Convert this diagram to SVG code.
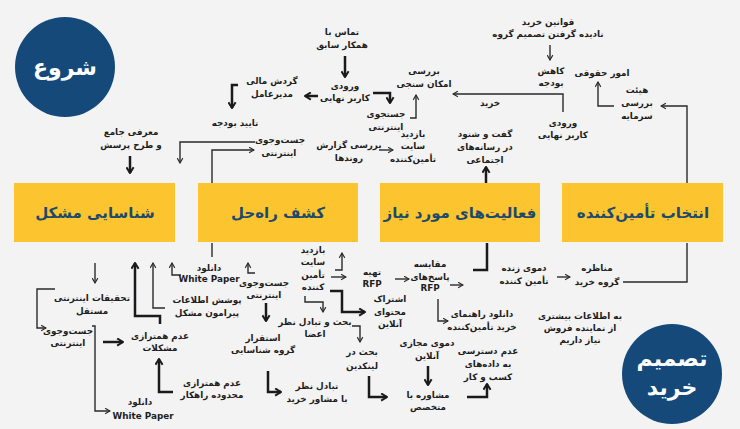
<svg xmlns="http://www.w3.org/2000/svg" width="740" height="429" viewBox="0 0 740 429">
<style>
.t{font-family:"DejaVu Sans","Noto Sans",sans-serif;font-size:8.8px;font-weight:bold;fill:#1e1e1e;text-anchor:middle}
.b{font-family:"DejaVu Sans","Noto Sans",sans-serif;font-size:15px;font-weight:bold;fill:#1d4a6c;text-anchor:middle}
.w{font-family:"DejaVu Sans","Noto Sans",sans-serif;font-size:22px;font-weight:bold;fill:#ffffff;text-anchor:middle}
.box{fill:#fcc42e}
.circ{fill:#15497a}
.n{fill:none;stroke:#2a2a2a;stroke-width:1.4;marker-end:url(#an)}
.k{fill:none;stroke:#1a1a1a;stroke-width:2.5;marker-end:url(#ak)}
.p{fill:none;stroke:#2a2a2a;stroke-width:1.4}
.pk{fill:none;stroke:#1a1a1a;stroke-width:2.5}
</style>
<defs>
<marker id="an" viewBox="0 0 10 10" refX="9" refY="5" markerWidth="7" markerHeight="7" markerUnits="userSpaceOnUse" orient="auto"><path d="M2,1 L9,5 L2,9" fill="none" stroke="#2a2a2a" stroke-width="1.6"/></marker>
<marker id="ak" viewBox="0 0 10 10" refX="8.5" refY="5" markerWidth="9" markerHeight="9" markerUnits="userSpaceOnUse" orient="auto"><path d="M2,1 L8.5,5 L2,9" fill="none" stroke="#1a1a1a" stroke-width="2.2"/></marker>
</defs>
<rect width="740" height="429" fill="#f3f3f3"/>

<g id="start"><circle class="circ" cx="65" cy="67" r="50"/><text class="w" x="65" y="75">شروع</text></g>
<g id="decision"><circle class="circ" cx="672" cy="374" r="50"/><text class="w" x="672" y="366">تصمیم</text><text class="w" x="672" y="395">خرید</text></g>

<g id="box-problem"><rect class="box" x="14" y="183" width="161" height="59"/><text class="b" x="95" y="218">شناسایی مشکل</text></g>
<g id="box-solution"><rect class="box" x="198" y="183" width="160" height="59"/><text class="b" x="278" y="218">کشف راه‌حل</text></g>
<g id="box-activities"><rect class="box" x="380" y="183" width="160" height="59"/><text class="b" x="460" y="218">فعالیت‌های مورد نیاز</text></g>
<g id="box-supplier"><rect class="box" x="562" y="183" width="161" height="59"/><text class="b" x="643" y="218">انتخاب تأمین‌کننده</text></g>

<g id="connectors">
<path class="k" d="M345,56 V77"/>
<path class="k" d="M318,96 H305"/>
<path class="k" d="M373,93 H390 V103"/>
<path class="n" d="M410,118 H416 V95"/>
<path class="n" d="M563,112 V94 H453"/>
<path class="n" d="M550,45 V60"/>
<path class="n" d="M614,106 H598 V82"/>
<path class="n" d="M687,183 V106 H661"/>
<path class="p" d="M623,282 H687 V243"/>
<path class="k" d="M238,85 H232 V108"/>
<path class="k" d="M130,156 V173"/>
<path class="n" d="M255,142 H180 V163"/>
<path class="n" d="M212,183 V150 H254"/>
<path class="n" d="M379,150 H393"/>
<path class="k" d="M486,183 V167"/>
<path class="n" d="M95,263 V283"/>
<path class="n" d="M55,289 H37 V328 H46"/>
<path class="n" d="M92,326 H95 V411 H110"/>
<path class="k" d="M103,342 H123"/>
<path class="k" d="M173,392 H159 V359"/>
<path class="k" d="M160,324 V316 H135 V263"/>
<path class="n" d="M165,308 H153 V263"/>
<path class="n" d="M181,275 H172 V263"/>
<path class="p" d="M212,243 V257"/>
<path class="n" d="M255,273 H248 V263"/>
<path class="k" d="M266,303 V321"/>
<path class="k" d="M268,371 V392 H281"/>
<path class="n" d="M335,270 H342 V253"/>
<path class="n" d="M331,277 H346"/>
<path class="k" d="M330,291 H342 V312 H365"/>
<path class="n" d="M305,296 V302 H323 V312"/>
<path class="n" d="M352,326 H360 V342"/>
<path class="k" d="M369,376 V397 H387"/>
<path class="n" d="M395,279 H409"/>
<path class="n" d="M450,285 H463"/>
<path class="pk" d="M473,270 H487 V243"/>
<path class="n" d="M557,277 H570"/>
<path class="n" d="M438,299 V321 H448"/>
<path class="k" d="M428,366 V385"/>
<path class="k" d="M467,397 H487 V384"/>
</g>

<g id="n-contact"><text class="t" x="342" y="35">تماس با</text><text class="t" x="342" y="48">همکار سابق</text></g>
<g id="n-enduser1"><text class="t" x="345" y="89">ورودی</text><text class="t" x="345" y="101">کاربر نهایی</text></g>
<g id="n-ceo"><text class="t" x="272" y="84">گردش مالی</text><text class="t" x="272" y="97">مدیرعامل</text></g>
<g id="n-search-top"><text class="t" x="386" y="117">جستجوی</text><text class="t" x="386" y="130">اینترنتی</text></g>
<g id="n-feasibility"><text class="t" x="424" y="74">بررسی</text><text class="t" x="424" y="87">امکان سنجی</text></g>
<g id="n-buy"><text class="t" x="490" y="106">خرید</text></g>
<g id="n-enduser2"><text class="t" x="563" y="126">ورودی</text><text class="t" x="563" y="138">کاربر نهایی</text></g>
<g id="n-rules"><text class="t" x="548" y="25">قوانین خرید</text><text class="t" x="548" y="37">نادیده گرفتن تصمیم گروه</text></g>
<g id="n-cut"><text class="t" x="551" y="74">کاهش</text><text class="t" x="551" y="86">بودجه</text></g>
<g id="n-legal"><text class="t" x="602" y="76">امور حقوقی</text></g>
<g id="n-board"><text class="t" x="637" y="93">هیئت</text><text class="t" x="637" y="106">بررسی</text><text class="t" x="637" y="119">سرمایه</text></g>
<g id="n-budget"><text class="t" x="235" y="126">تایید بودجه</text></g>
<g id="n-intro"><text class="t" x="131" y="135">معرفی جامع</text><text class="t" x="131" y="148">و طرح پرسش</text></g>
<g id="n-search2"><text class="t" x="280" y="143">جست‌وجوی</text><text class="t" x="279" y="156">اینترنتی</text></g>
<g id="n-trends"><text class="t" x="349" y="148">بررسی گزارش</text><text class="t" x="349" y="161">روندها</text></g>
<g id="n-visit1"><text class="t" x="413" y="137">بازدید</text><text class="t" x="413" y="149">سایت</text><text class="t" x="413" y="162">تأمین‌کننده</text></g>
<g id="n-social"><text class="t" x="485" y="137">گفت و شنود</text><text class="t" x="485" y="150">در رسانه‌های</text><text class="t" x="485" y="163">اجتماعی</text></g>

<g id="n-research"><text class="t" x="92" y="301">تحقیقات اینترنتی</text><text class="t" x="92" y="314">مستقل</text></g>
<g id="n-search3"><text class="t" x="68" y="334">جست‌وجوی</text><text class="t" x="68" y="346">اینترنتی</text></g>
<g id="n-wp1"><text class="t" x="140" y="405">دانلود</text><text class="t" x="143" y="419">White Paper</text></g>
<g id="n-misalign1"><text class="t" x="160" y="339">عدم همترازی</text><text class="t" x="160" y="351">مشکلات</text></g>
<g id="n-misalign2"><text class="t" x="212" y="386">عدم همترازی</text><text class="t" x="212" y="398">محدوده راهکار</text></g>
<g id="n-coverage"><text class="t" x="207" y="303">پوشش اطلاعات</text><text class="t" x="207" y="316">پیرامون مشکل</text></g>
<g id="n-wp2"><text class="t" x="209" y="271">دانلود</text><text class="t" x="209" y="282">White Paper</text></g>
<g id="n-search4"><text class="t" x="264" y="286">جست‌وجوی</text><text class="t" x="264" y="298">اینترنتی</text></g>
<g id="n-team"><text class="t" x="263" y="341">استقرار</text><text class="t" x="263" y="353">گروه شناسایی</text></g>
<g id="n-advisor"><text class="t" x="317" y="389">تبادل نظر</text><text class="t" x="317" y="402">با مشاور خرید</text></g>
<g id="n-visit2"><text class="t" x="313" y="253">بازدید</text><text class="t" x="313" y="265">سایت</text><text class="t" x="313" y="278">تأمین</text><text class="t" x="313" y="290">کننده</text></g>
<g id="n-discuss"><text class="t" x="315" y="325">بحث و تبادل نظر</text><text class="t" x="315" y="337">اعضا</text></g>
<g id="n-linkedin"><text class="t" x="362" y="355">بحث در</text><text class="t" x="362" y="369">لینکدین</text></g>
<g id="n-share"><text class="t" x="390" y="302">اشتراک</text><text class="t" x="390" y="315">محتوای</text><text class="t" x="390" y="327">آنلاین</text></g>
<g id="n-rfp"><text class="t" x="372" y="275">تهیه</text><text class="t" x="372" y="287">RFP</text></g>
<g id="n-compare"><text class="t" x="430" y="267">مقایسه</text><text class="t" x="430" y="280">پاسخ‌های</text><text class="t" x="430" y="291">RFP</text></g>
<g id="n-livedemo"><text class="t" x="524" y="271">دموی زنده</text><text class="t" x="524" y="284">تأمین کننده</text></g>
<g id="n-debate"><text class="t" x="597" y="271">مناظره</text><text class="t" x="597" y="285">گروه خرید</text></g>
<g id="n-guide"><text class="t" x="482" y="317">دانلود راهنمای</text><text class="t" x="482" y="330">خرید تأمین‌کننده</text></g>
<g id="n-virtualdemo"><text class="t" x="427" y="346">دموی مجازی</text><text class="t" x="427" y="359">آنلاین</text></g>
<g id="n-expert"><text class="t" x="428" y="398">مشاوره با</text><text class="t" x="428" y="410">متخصص</text></g>
<g id="n-noaccess"><text class="t" x="488" y="354">عدم دسترسی</text><text class="t" x="488" y="367">به داده‌های</text><text class="t" x="488" y="380">کسب و کار</text></g>
<g id="n-salesrep"><text class="t" x="580" y="319">به اطلاعات بیشتری</text><text class="t" x="580" y="331">از نماینده فروش</text><text class="t" x="580" y="343">نیاز داریم</text></g>
</svg>
